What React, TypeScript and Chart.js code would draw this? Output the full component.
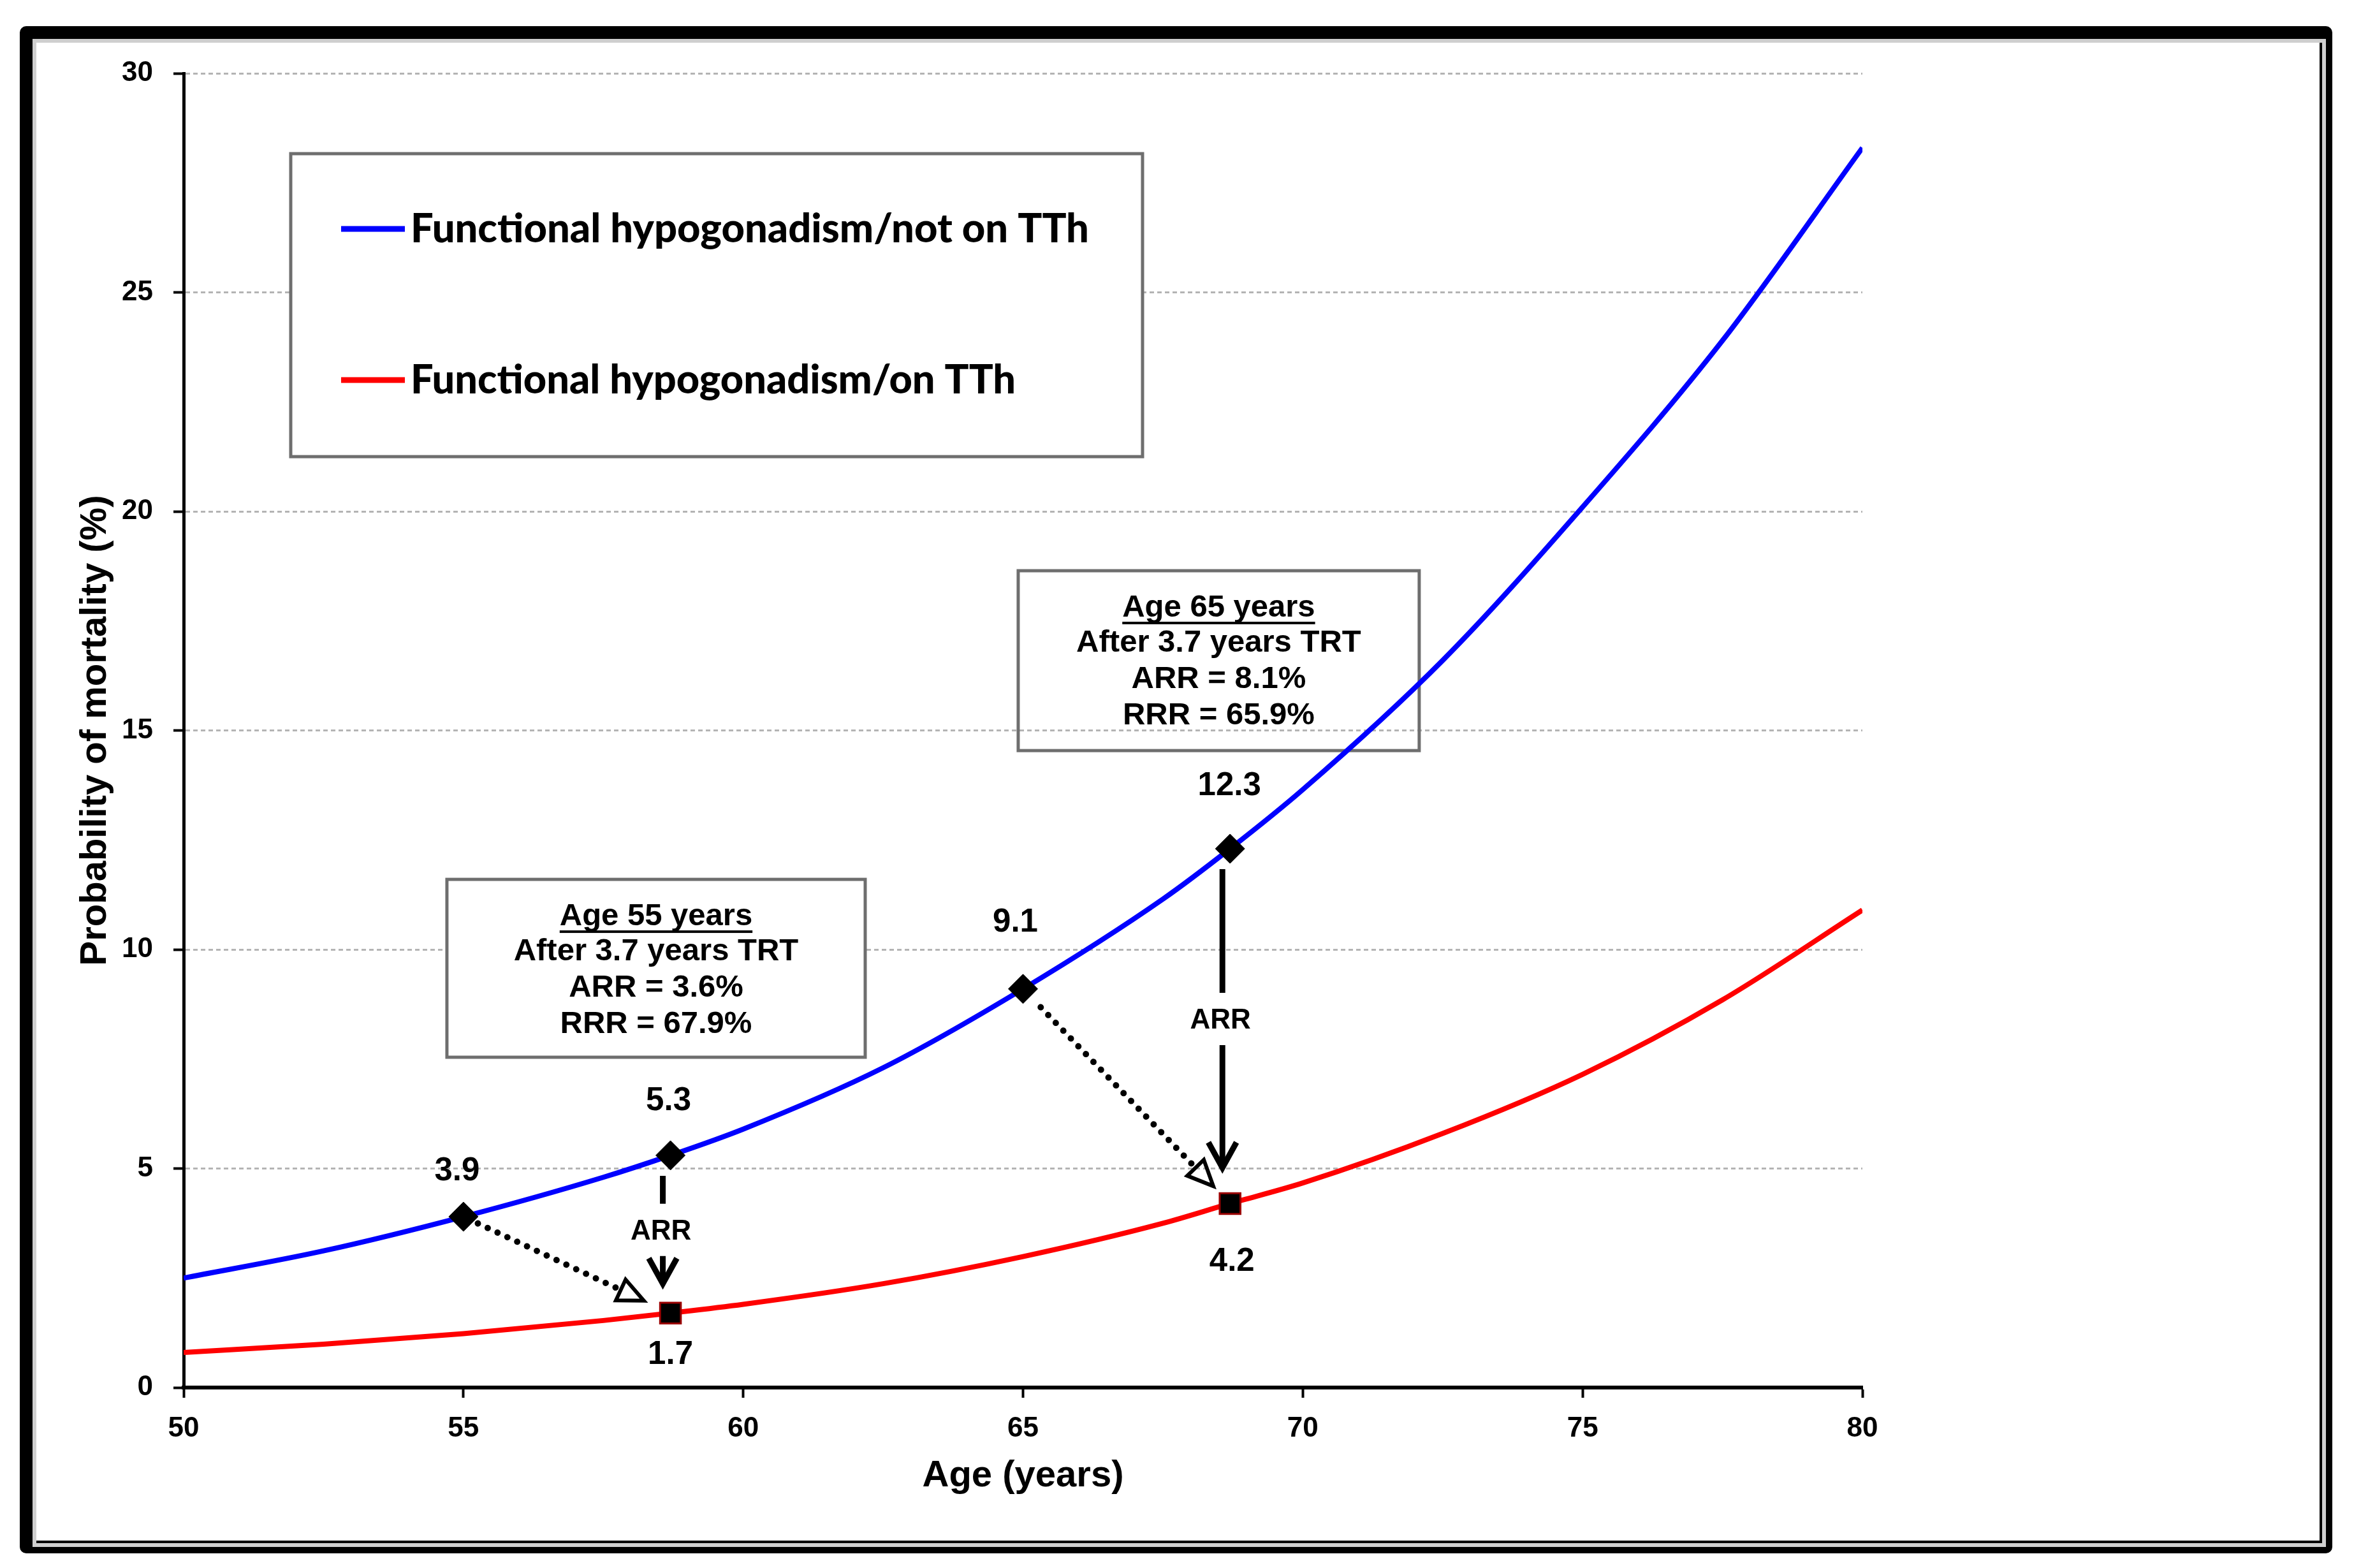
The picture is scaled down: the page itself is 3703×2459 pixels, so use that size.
import React, { useEffect, useRef } from 'react';
import { Chart, registerables } from 'chart.js';

Chart.register(...registerables);

// ---------- data ----------
const AGES = [50, 52.5, 55, 57.5, 58.7, 60, 62.5, 65, 67.5, 68.7, 70, 72.5, 75, 77.5, 80];
const NOT_ON_TTH = [2.5, 3.12, 3.9, 4.8, 5.3, 5.9, 7.3, 9.1, 11.15, 12.3, 13.65, 16.6, 20.1, 23.9, 28.3];
const ON_TTH = [0.8, 0.99, 1.23, 1.53, 1.7, 1.9, 2.37, 2.99, 3.75, 4.2, 4.67, 5.8, 7.15, 8.85, 10.9];
const SERIES_LABELS = ['Functional hypogonadism/not on TTh', 'Functional hypogonadism/on TTh'];
const SERIES_COLORS = ['#0000ff', '#ff0000'];

const BLUE_MARK_AGES = [55, 58.7, 65, 68.7];
const BLUE_MARK_VALUES = [3.9, 5.3, 9.1, 12.3];
const RED_MARK_AGES = [58.7, 68.7];
const RED_MARK_VALUES = [1.7, 4.2];

const X_TICKS = [50, 55, 60, 65, 70, 75, 80];
const Y_TICKS = [0, 5, 10, 15, 20, 25, 30];
const X_TITLE = 'Age (years)';
const Y_TITLE = 'Probability of mortality (%)';

const BOX55_LINES = ['Age 55 years', 'After 3.7 years TRT', 'ARR = 3.6%', 'RRR = 67.9%'];
const BOX65_LINES = ['Age 65 years', 'After 3.7 years TRT', 'ARR = 8.1%', 'RRR = 65.9%'];
const ARR_TEXT = 'ARR';

// ---------- layout / styling (data units for boxes, px for offsets) ----------
const LEGEND_BOX = { x0: 51.914, x1: 67.136, y0: 28.166, y1: 21.25 };
const LEGEND_TEXT_WIDTHS = [1064, 949];
const BOX55 = { x0: 54.705, x1: 62.18, y0: 11.6, y1: 7.54, fill: true };
const BOX65 = { x0: 64.914, x1: 72.08, y0: 18.646, y1: 14.54, fill: false };
const BLUE_LABEL_OFFSETS = [[-10, -71], [-3, -85], [-12, -104], [-1, -98]];
const RED_LABEL_OFFSETS = [[0, 66], [3, 91]];
const DOTTED_ARROWS = [
  { from: 0, to: 0, gapStart: 25, gapEnd: 46 },
  { from: 2, to: 1, gapStart: 40, gapEnd: 38 },
];
const ARR_ARROWS = [
  { from: 1, to: 0, tipGap: 46 },
  { from: 3, to: 1, tipGap: 56 },
];

const FONT = '"Liberation Sans", Arial, Helvetica, sans-serif';
const LEGEND_FONT = 'Lato, "Liberation Sans", sans-serif';

const W = 3703;
const H = 2459;

function drawBox(ctx: any, chart: any, box: any, lines?: string[]) {
  const xs = chart.scales.x;
  const ys = chart.scales.y;
  const l = xs.getPixelForValue(box.x0);
  const r = xs.getPixelForValue(box.x1);
  const t = ys.getPixelForValue(box.y0);
  const b = ys.getPixelForValue(box.y1);
  ctx.save();
  if (box.fill) {
    ctx.fillStyle = '#ffffff';
    ctx.fillRect(l, t, r - l, b - t);
  }
  ctx.strokeStyle = '#6e6e6e';
  ctx.lineWidth = 5;
  ctx.strokeRect(l, t, r - l, b - t);
  if (lines) {
    const cx = (l + r) / 2;
    const offs = [58, 113, 170, 227];
    ctx.fillStyle = '#000';
    ctx.font = `bold 49px ${FONT}`;
    ctx.textAlign = 'center';
    ctx.textBaseline = 'middle';
    lines.forEach((txt, i) => {
      const y = t + offs[i];
      ctx.fillText(txt, cx, y);
      if (i === 0) {
        const w = ctx.measureText(txt).width;
        ctx.fillRect(cx - w / 2, y + 22, w, 4);
      }
    });
  }
  ctx.restore();
}

function drawDotted(ctx: any, a: any, b: any, gapStart: number, gapEnd: number) {
  const dx = b.x - a.x;
  const dy = b.y - a.y;
  const len = Math.hypot(dx, dy);
  const ux = dx / len;
  const uy = dy / len;
  const px = -uy;
  const py = ux;
  const sx = a.x + ux * gapStart;
  const sy = a.y + uy * gapStart;
  const ex = b.x - ux * gapEnd;
  const ey = b.y - uy * gapEnd;
  const headLen = 40;
  const headW = 18;
  const bx = ex - ux * headLen;
  const by = ey - uy * headLen;
  ctx.save();
  ctx.strokeStyle = '#000';
  ctx.lineCap = 'round';
  ctx.lineWidth = 10;
  ctx.setLineDash([0.01, 17]);
  ctx.beginPath();
  ctx.moveTo(sx, sy);
  ctx.lineTo(bx, by);
  ctx.stroke();
  ctx.setLineDash([]);
  ctx.lineCap = 'butt';
  ctx.lineJoin = 'miter';
  ctx.lineWidth = 6;
  ctx.beginPath();
  ctx.moveTo(ex, ey);
  ctx.lineTo(bx + px * headW, by + py * headW);
  ctx.lineTo(bx - px * headW, by - py * headW);
  ctx.closePath();
  ctx.stroke();
  ctx.restore();
}

function drawArr(ctx: any, a: any, b: any, tipGap: number) {
  const x = b.x - 12;
  const textX = b.x - 15;
  const textY = a.y + (b.y - a.y) * 0.485;
  const tip = b.y - tipGap;
  ctx.save();
  ctx.strokeStyle = '#000';
  ctx.fillStyle = '#000';
  ctx.lineWidth = 9;
  ctx.lineCap = 'butt';
  ctx.beginPath();
  ctx.moveTo(x, a.y + 32);
  ctx.lineTo(x, textY - 44);
  ctx.moveTo(x, textY + 38);
  ctx.lineTo(x, tip - 3);
  ctx.stroke();
  ctx.lineJoin = 'miter';
  ctx.beginPath();
  ctx.moveTo(x - 22, tip - 40);
  ctx.lineTo(x, tip);
  ctx.lineTo(x + 22, tip - 40);
  ctx.stroke();
  ctx.font = `bold 44px ${FONT}`;
  ctx.textAlign = 'center';
  ctx.textBaseline = 'middle';
  ctx.fillText(ARR_TEXT, textX, textY);
  ctx.restore();
}

const figurePlugin = {
  id: 'figureAnnotations',
  beforeDatasetsDraw(chart: any) {
    const ctx = chart.ctx;
    const xs = chart.scales.x;
    const ys = chart.scales.y;
    // legend box
    drawBox(ctx, chart, { ...LEGEND_BOX, fill: true });
    const l = xs.getPixelForValue(LEGEND_BOX.x0);
    const t = ys.getPixelForValue(LEGEND_BOX.y0);
    const rows = [118, 355];
    SERIES_LABELS.forEach((label, i) => {
      const y = t + rows[i];
      ctx.save();
      ctx.strokeStyle = SERIES_COLORS[i];
      ctx.lineWidth = 9;
      ctx.beginPath();
      ctx.moveTo(l + 79, y);
      ctx.lineTo(l + 179, y);
      ctx.stroke();
      ctx.fillStyle = '#000';
      ctx.font = `900 62px ${LEGEND_FONT}`;
      ctx.textAlign = 'left';
      ctx.textBaseline = 'alphabetic';
      const natural = ctx.measureText(label).width;
      const sx = LEGEND_TEXT_WIDTHS[i] / natural;
      ctx.translate(l + 188, y + 21);
      ctx.scale(sx, 1);
      ctx.fillText(label, 0, 0);
      ctx.restore();
    });
    drawBox(ctx, chart, BOX55, BOX55_LINES);
    drawBox(ctx, chart, BOX65, BOX65_LINES);
  },
  afterDatasetsDraw(chart: any) {
    const ctx = chart.ctx;
    const blue = chart.getDatasetMeta(0).data;
    const red = chart.getDatasetMeta(1).data;
    DOTTED_ARROWS.forEach((a) => drawDotted(ctx, blue[a.from], red[a.to], a.gapStart, a.gapEnd));
    ARR_ARROWS.forEach((a) => drawArr(ctx, blue[a.from], red[a.to], a.tipGap));
    ctx.save();
    ctx.fillStyle = '#000';
    ctx.font = `bold 51px ${FONT}`;
    ctx.textAlign = 'center';
    ctx.textBaseline = 'middle';
    BLUE_MARK_VALUES.forEach((v, i) => {
      const p = blue[i];
      const [dx, dy] = BLUE_LABEL_OFFSETS[i];
      ctx.fillText(v.toFixed(1), p.x + dx, p.y + dy);
    });
    RED_MARK_VALUES.forEach((v, i) => {
      const p = red[i];
      const [dx, dy] = RED_LABEL_OFFSETS[i];
      ctx.fillText(v.toFixed(1), p.x + dx, p.y + dy);
    });
    ctx.restore();
  },
  afterDraw(chart: any) {
    const ctx = chart.ctx;
    ctx.save();
    ctx.strokeStyle = '#000';
    ctx.lineWidth = 20;
    ctx.lineJoin = 'round';
    ctx.strokeRect(41, 51, 3607, 2375);
    ctx.strokeStyle = '#cfcfcf';
    ctx.lineWidth = 6;
    ctx.lineJoin = 'miter';
    ctx.strokeRect(54, 64, 3591, 2359);
    ctx.restore();
  },
};

export default function App() {
  const ref = useRef<HTMLCanvasElement>(null);

  useEffect(() => {
    const canvas = ref.current;
    if (!canvas) return;
    const tickFont = { family: FONT, size: 44, weight: 'bold' as const };
    const titleFont = { family: FONT, size: 58, weight: 'bold' as const };
    const chart = new Chart(canvas, {
      type: 'line',
      data: {
        datasets: [
          {
            label: 'not on TTh markers',
            data: BLUE_MARK_AGES.map((a, i) => ({ x: a, y: BLUE_MARK_VALUES[i] })),
            showLine: false,
            pointStyle: 'rectRot',
            pointRadius: 23,
            pointBackgroundColor: '#000',
            pointBorderColor: '#000',
            pointBorderWidth: 1,
            order: 0,
          },
          {
            label: 'on TTh markers',
            data: RED_MARK_AGES.map((a, i) => ({ x: a, y: RED_MARK_VALUES[i] })),
            showLine: false,
            pointStyle: 'rect',
            pointRadius: 23,
            pointBackgroundColor: '#000',
            pointBorderColor: '#9a0000',
            pointBorderWidth: 3,
            order: 0,
          },
          {
            label: SERIES_LABELS[0],
            data: AGES.map((a, i) => ({ x: a, y: NOT_ON_TTH[i] })),
            borderColor: SERIES_COLORS[0],
            borderWidth: 8,
            pointRadius: 0,
            cubicInterpolationMode: 'monotone',
            fill: false,
            order: 1,
          },
          {
            label: SERIES_LABELS[1],
            data: AGES.map((a, i) => ({ x: a, y: ON_TTH[i] })),
            borderColor: SERIES_COLORS[1],
            borderWidth: 8,
            pointRadius: 0,
            cubicInterpolationMode: 'monotone',
            fill: false,
            order: 1,
          },
        ],
      },
      options: {
        animation: false,
        responsive: false,
        devicePixelRatio: 1,
        layout: { padding: { left: 110, right: 782, top: 115, bottom: 109 } },
        plugins: {
          legend: { display: false },
          tooltip: { enabled: false },
        },
        scales: {
          x: {
            type: 'linear',
            min: 50,
            max: 80,
            afterBuildTicks: (s: any) => {
              s.ticks = X_TICKS.map((v) => ({ value: v }));
            },
            afterFit: (s: any) => {
              s.height = 174;
            },
            ticks: { font: tickFont, color: '#000', padding: 22, maxRotation: 0, autoSkip: false },
            grid: {
              drawOnChartArea: false,
              drawTicks: true,
              tickLength: 16,
              tickColor: '#000',
              tickWidth: 4,
            },
            border: { display: true, color: '#000', width: 6 },
            title: { display: true, text: X_TITLE, font: titleFont, color: '#000', padding: 0 },
          },
          y: {
            type: 'linear',
            min: 0,
            max: 30,
            afterBuildTicks: (s: any) => {
              s.ticks = Y_TICKS.map((v) => ({ value: v }));
            },
            afterFit: (s: any) => {
              s.width = 178;
            },
            ticks: { font: tickFont, color: '#000', padding: 32, autoSkip: false },
            grid: {
              drawOnChartArea: true,
              drawTicks: true,
              tickLength: 16,
              tickColor: '#000',
              tickWidth: 4,
              lineWidth: 3,
              color: (c: any) => (c.tick && c.tick.value === 0 ? 'rgba(0,0,0,0)' : '#b4b4b4'),
            },
            border: { display: true, color: '#000', width: 5, dash: [7, 5] },
            title: { display: true, text: Y_TITLE, font: titleFont, color: '#000', padding: { top: 5, bottom: 0 } },
          },
        },
      } as any,
      plugins: [figurePlugin],
    });
    return () => chart.destroy();
  }, []);

  return (
    <div style={{ position: 'absolute', left: 0, top: 0, width: W, height: H, background: '#ffffff' }}>
      <canvas ref={ref} width={W} height={H} style={{ display: 'block', width: W, height: H }} />
    </div>
  );
}
